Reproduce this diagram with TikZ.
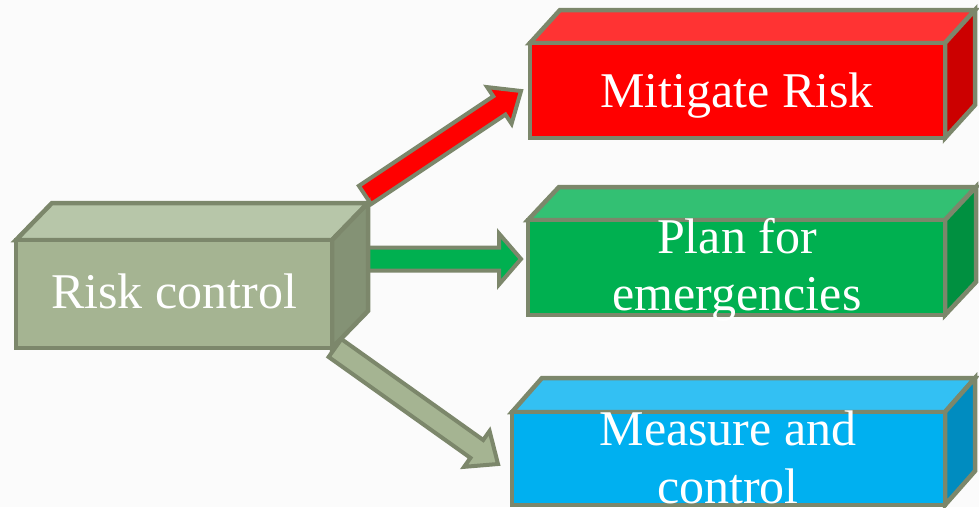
\documentclass[tikz,border=0pt]{standalone}
\usepackage{fontspec}
\setmainfont{Liberation Serif}
\usetikzlibrary{calc}

\definecolor{edge}{RGB}{124,135,107}
\definecolor{paper}{RGB}{251,251,251}
\definecolor{riskFront}{RGB}{165,180,146}
\definecolor{riskTop}{RGB}{183,198,169}
\definecolor{riskSide}{RGB}{132,146,117}
\definecolor{mitiFront}{RGB}{255,0,0}
\definecolor{mitiTop}{RGB}{255,51,51}
\definecolor{mitiSide}{RGB}{204,0,0}
\definecolor{planFront}{RGB}{0,176,80}
\definecolor{planTop}{RGB}{51,192,115}
\definecolor{planSide}{RGB}{0,144,64}
\definecolor{measFront}{RGB}{0,176,240}
\definecolor{measTop}{RGB}{51,192,243}
\definecolor{measSide}{RGB}{0,140,192}

\tikzset{
  boxline/.style={draw=edge, line width=4.5pt, line join=miter},
  arrowline/.style={draw=edge, line width=4pt, line join=miter},
  boxtext/.style={text=white, font=\fontsize{50}{57}\selectfont, anchor=base, inner sep=0pt},
}

% #1 front NW corner, #2 front SE corner, #3 depth, #4 colour prefix
\newcommand{\cuboid}[4]{%
  \path (#1) coordinate (nw) (#2) coordinate (se);
  \draw[boxline, fill=#4Top] (nw) -- ++(#3) -- ($(se|-nw)+(#3)$) -- (se|-nw) -- cycle;
  \draw[boxline, fill=#4Side] (se|-nw) -- ++(#3) -- ($(se)+(#3)$) -- (se) -- cycle;
  \draw[boxline, fill=#4Front] (nw) rectangle (se);
}

% #1 tail, #2 tip, #3 fill, #4 half shaft, #5 half head, #6 head length
\newcommand{\fatarrow}[6]{%
  \path ($(#2)!#6!(#1)$) coordinate (hb);
  \draw[arrowline, fill=#3] ($(#1)!#4!90:(#2)$) -- ($(hb)!#4!90:(#2)$)
    -- ($(hb)!#5!90:(#2)$) -- (#2) -- ($(hb)!#5!-90:(#2)$)
    -- ($(hb)!#4!-90:(#2)$) -- ($(#1)!#4!-90:(#2)$) -- cycle;
}

\begin{document}
\begin{tikzpicture}[x=1pt, y=-1pt]
  % Background
  \fill[paper] (0,0) rectangle (979,507);
  \useasboundingbox (0,0) rectangle (979,507);
  \clip (0,0) rectangle (979,507);

  % Arrow ends
  \coordinate (mitiOut) at (365,195);
  \coordinate (mitiIn) at (521,91);
  \coordinate (planOut) at (362,259);
  \coordinate (planIn) at (521,259);
  \coordinate (measOut) at (335,348);
  \coordinate (measIn) at (498,464);

  % Arrows
  \fatarrow{mitiOut}{mitiIn}{mitiFront}{11pt}{22pt}{26pt}
  \fatarrow{planOut}{planIn}{planFront}{11.5pt}{25.5pt}{22pt}
  \fatarrow{measOut}{measIn}{riskFront}{11pt}{22pt}{26pt}

  % Boxes
  \cuboid{16,240}{332,348}{36,-37}{risk}
  \cuboid{530,43}{945,138}{30,-33}{miti}
  \cuboid{528,220}{945,315}{31,-33}{plan}
  \cuboid{512,412}{945,505}{30,-34}{meas}

  % Labels
  \node[boxtext] (risk) at (174,308) {Risk control};
  \node[boxtext] (miti) at (737,107) {Mitigate Risk};
  \node[boxtext] (planA) at (737,253) {Plan for};
  \node[boxtext] (planB) at (737,310) {emergencies};
  \node[boxtext] (measA) at (728,445) {Measure and};
  \node[boxtext] (measB) at (728,503) {control};
\end{tikzpicture}
\end{document}
